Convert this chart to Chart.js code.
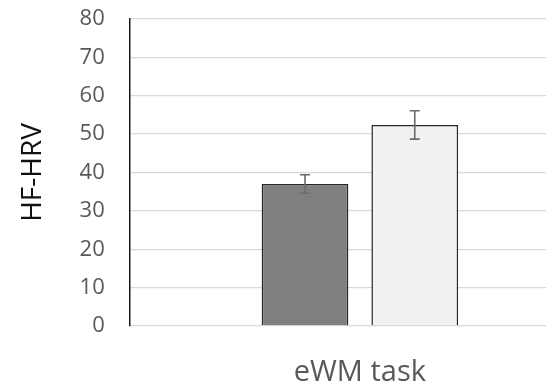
<!DOCTYPE html>
<html>
<head>
<meta charset="utf-8">
<script src="https://cdn.jsdelivr.net/npm/chart.js@4/dist/chart.umd.min.js"></script>
<style>
html,body{margin:0;padding:0;background:#fff;overflow:hidden;width:546px;height:387px;}
#wrap{width:590px;height:387px;}
canvas{display:block;}
</style>
</head>
<body>
<div id="wrap"><canvas id="c" width="590" height="387"></canvas></div>
<script>
const categories = ['eWM task'];
const seriesNames = ['Group 1', 'Group 2'];
const seriesA = [37.0];
const seriesB = [52.4];
const errorsA = [2.4];
const errorsB = [3.7];
const yMin = 0, yMax = 80, yStep = 10;
const yTitle = 'HF-HRV';

const errorBarPlugin = {
  id: 'errorBars',
  afterDatasetsDraw(chart) {
    const ctx = chart.ctx;
    const y = chart.scales.y;
    chart.data.datasets.forEach((ds, di) => {
      const meta = chart.getDatasetMeta(di);
      meta.data.forEach((bar, i) => {
        const v = ds.data[i], e = ds.errors[i];
        const yt = y.getPixelForValue(v + e), yb = y.getPixelForValue(v - e);
        ctx.save();
        ctx.strokeStyle = '#6b6b6b';
        ctx.lineWidth = 1.6;
        ctx.beginPath();
        ctx.moveTo(bar.x, yt); ctx.lineTo(bar.x, yb);
        ctx.moveTo(bar.x - 5, yt); ctx.lineTo(bar.x + 5, yt);
        ctx.moveTo(bar.x - 5, yb); ctx.lineTo(bar.x + 5, yb);
        ctx.stroke();
        ctx.restore();
      });
    });
  }
};

new Chart(document.getElementById('c'), {
  type: 'bar',
  data: {
    labels: categories,
    datasets: [
      { label: seriesNames[0], data: seriesA, errors: errorsA, backgroundColor: '#7f7f7f', borderColor: '#262626', borderWidth: 1.5 },
      { label: seriesNames[1], data: seriesB, errors: errorsB, backgroundColor: '#f1f1f1', borderColor: '#262626', borderWidth: 1.5 }
    ]
  },
  options: {
    responsive: false,
    animation: false,
    devicePixelRatio: 1,
    categoryPercentage: 0.477,
    barPercentage: 0.79,
    layout: { padding: { top: 0, left: 16, right: 0, bottom: 0 } },
    plugins: { legend: { display: false }, tooltip: { enabled: false } },
    scales: {
      x: {
        grid: { display: false, drawTicks: false },
        border: { display: false },
        ticks: { display: false },
        title: { display: true, text: categories[0], color: '#595959', font: { family: 'Open Sans', size: 29, lineHeight: 1.0 }, padding: { top: 32, bottom: 0 } }
      },
      y: {
        min: yMin, max: yMax,
        afterFit(scale) { scale.paddingTop = 19; },
        ticks: { stepSize: yStep, color: '#595959', font: { family: 'Open Sans', size: 22 }, padding: 25 },
        grid: { color: '#d9d9d9', lineWidth: 1.3, drawTicks: false },
        border: { display: true, color: '#1a1a1a', width: 1.5 },
        title: { display: true, text: yTitle, color: '#111', font: { family: 'Open Sans', size: 28 }, padding: { top: 0, bottom: 5 } }
      }
    }
  },
  plugins: [errorBarPlugin]
});
</script>
</body>
</html>
